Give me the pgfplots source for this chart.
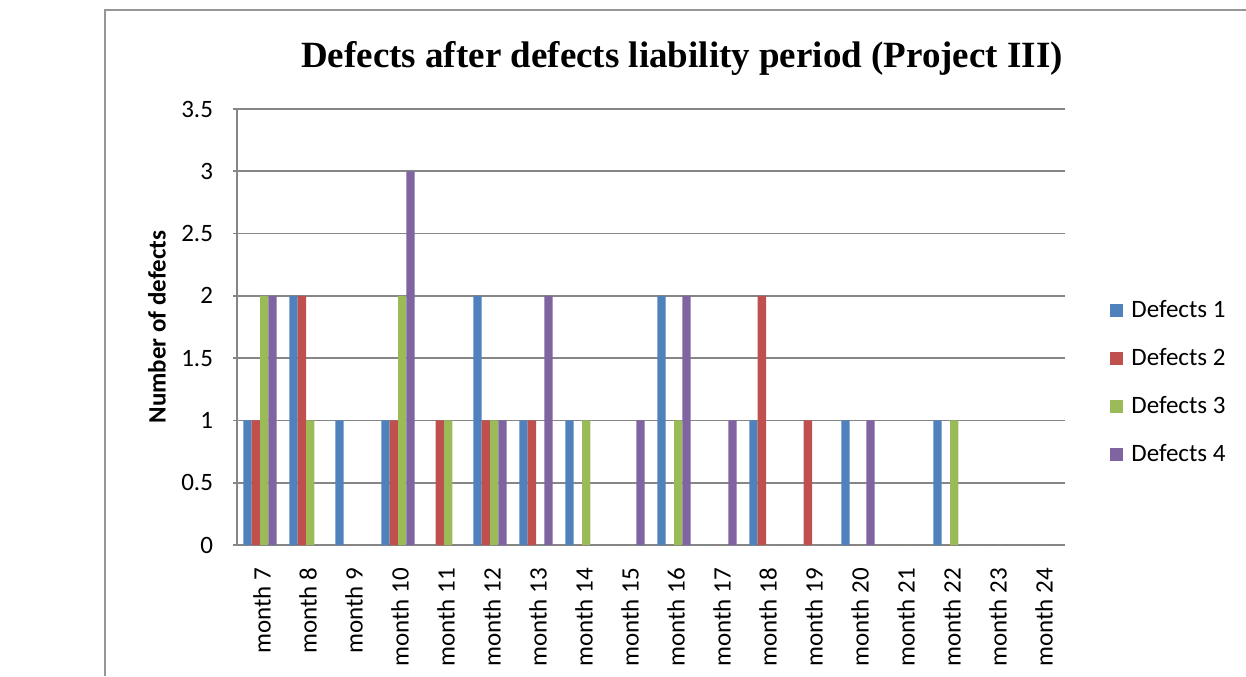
\documentclass[border=0pt]{standalone}
\usepackage{fontspec}
\setmainfont{Carlito}
\newfontfamily\titlefont{Liberation Serif}
\usepackage{pgfplots}
\pgfplotsset{compat=1.18}
\definecolor{cA}{RGB}{79,129,189}
\definecolor{cB}{RGB}{192,80,77}
\definecolor{cC}{RGB}{155,187,89}
\definecolor{cD}{RGB}{128,100,162}
\definecolor{gridgray}{RGB}{134,134,134}
\definecolor{framegray}{RGB}{150,150,150}
\newcommand{\lbl}{\fontsize{12.5}{15}\selectfont}
\begin{document}
\begin{tikzpicture}
\useasboundingbox (0,0) rectangle (623pt,338pt);
\draw[framegray, line width=0.6pt] (52.5pt,0) -- (52.5pt,333pt) -- (623pt,333pt);
\node[anchor=base, font=\titlefont\bfseries\fontsize{18.5}{22}\selectfont] at (341pt,304pt) {Defects after defects liability period (Project III)};
\begin{axis}[
  at={(118.5pt,65.5pt)}, anchor=south west,
  scale only axis, width=414pt, height=218pt,
  ybar=0pt, bar width=4.15pt,
  xmin=-0.5, xmax=17.5, ymin=0, ymax=3.5,
  xtick={0,...,17},
  xticklabels={month 7,month 8,month 9,month 10,month 11,month 12,month 13,month 14,month 15,month 16,month 17,month 18,month 19,month 20,month 21,month 22,month 23,month 24},
  xticklabel style={rotate=90, anchor=east, font=\lbl, xshift=-6pt, yshift=-1pt},
  major x tick style={draw=none},
  ytick={0,0.5,1,1.5,2,2.5,3,3.5},
  yticklabels={0,0.5,1,1.5,2,2.5,3,3.5},
  yticklabel style={font=\lbl, xshift=-6.5pt},
  /pgf/number format/assume math mode=true,
  tick align=outside, major tick length=4pt,
  ytick style={gridgray, line width=0.8pt},
  axis x line=bottom, axis y line=left,
  axis line style={gridgray, line width=0.8pt, -},
  ymajorgrids, grid style={gridgray, line width=0.8pt},
  ylabel={Number of defects},
  every axis y label/.style={at={(axis description cs:-0.0966,0.5)}, rotate=90, anchor=center, font=\lbl\bfseries},
  legend style={at={(axis description cs:1.0543,0.3727)}, anchor=west, draw=none, fill=none, inner sep=0pt, font=\lbl, row sep=14pt, nodes={inner xsep=4pt, inner ysep=0pt}},
  legend cell align=left,
  legend image code/.code={\fill[#1] (0pt,-3.25pt) rectangle (6.5pt,3.25pt);},
  clip=false,
]
\addplot[fill=cA, draw=none] coordinates {(0,1) (1,2) (2,1) (3,1) (4,0) (5,2) (6,1) (7,1) (8,0) (9,2) (10,0) (11,1) (12,0) (13,1) (14,0) (15,1) (16,0) (17,0)};
\addplot[fill=cB, draw=none] coordinates {(0,1) (1,2) (2,0) (3,1) (4,1) (5,1) (6,1) (7,0) (8,0) (9,0) (10,0) (11,2) (12,1) (13,0) (14,0) (15,0) (16,0) (17,0)};
\addplot[fill=cC, draw=none] coordinates {(0,2) (1,1) (2,0) (3,2) (4,1) (5,1) (6,0) (7,1) (8,0) (9,1) (10,0) (11,0) (12,0) (13,0) (14,0) (15,1) (16,0) (17,0)};
\addplot[fill=cD, draw=none] coordinates {(0,2) (1,0) (2,0) (3,3) (4,0) (5,1) (6,2) (7,0) (8,1) (9,2) (10,1) (11,0) (12,0) (13,1) (14,0) (15,0) (16,0) (17,0)};
\legend{Defects 1,Defects 2,Defects 3,Defects 4}
\end{axis}
\end{tikzpicture}
\end{document}
